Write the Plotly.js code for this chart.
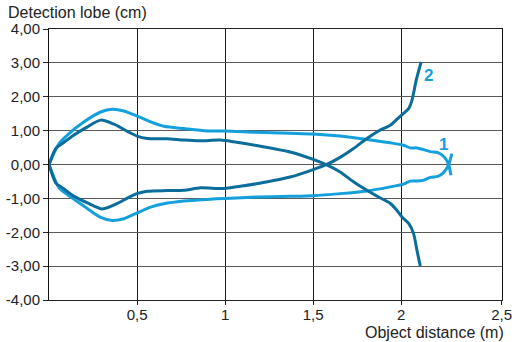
<!DOCTYPE html>
<html>
<head>
<meta charset="utf-8">
<script src="https://cdn.plot.ly/plotly-3.0.1.min.js"></script>
<style>html,body{margin:0;padding:0;background:#fff;}#chart{width:512px;height:342px;}</style>
</head>
<body>
<div id="chart"></div>
<script>
// ---- Data ----
// Curve 1 (light blue), upper and lower branches
const curve1UpperX = [0, 0.057, 0.104, 0.199, 0.293, 0.36, 0.425, 0.5, 0.577, 0.652, 0.766, 0.898, 1.0, 1.178, 1.369, 1.5, 1.653, 1.805, 1.938, 2.013, 2.051, 2.089, 2.127, 2.165, 2.208, 2.244, 2.268, 2.282];
const curve1UpperY = [0, 0.62, 0.87, 1.26, 1.55, 1.63, 1.58, 1.43, 1.26, 1.13, 1.06, 0.99, 0.99, 0.95, 0.92, 0.90, 0.84, 0.74, 0.64, 0.57, 0.49, 0.49, 0.44, 0.38, 0.35, 0.22, 0.01, -0.32];
const curve1LowerX = [0, 0.057, 0.104, 0.199, 0.293, 0.36, 0.425, 0.5, 0.577, 0.652, 0.766, 0.898, 1.0, 1.178, 1.369, 1.5, 1.653, 1.805, 1.938, 2.013, 2.051, 2.089, 2.127, 2.165, 2.208, 2.24, 2.268, 2.287];
const curve1LowerY = [0, -0.69, -0.89, -1.23, -1.56, -1.65, -1.6, -1.43, -1.26, -1.16, -1.08, -1.03, -1.0, -0.96, -0.94, -0.92, -0.86, -0.78, -0.66, -0.58, -0.49, -0.49, -0.46, -0.38, -0.35, -0.24, -0.02, 0.32];
// Curve 2 (dark blue), upper and lower branches
const curve2UpperX = [0, 0.038, 0.076, 0.142, 0.218, 0.293, 0.369, 0.445, 0.5, 0.558, 0.671, 0.766, 0.86, 0.974, 1.049, 1.178, 1.272, 1.369, 1.5, 1.58, 1.653, 1.729, 1.805, 1.871, 1.938, 1.975, 2.004, 2.042, 2.07, 2.089, 2.108];
const curve2UpperY = [0, 0.47, 0.62, 0.87, 1.11, 1.31, 1.19, 0.98, 0.84, 0.77, 0.76, 0.72, 0.70, 0.72, 0.67, 0.56, 0.47, 0.37, 0.15, -0.02, -0.22, -0.51, -0.76, -0.96, -1.15, -1.35, -1.55, -1.74, -2.04, -2.53, -3.0];
const curve2LowerX = [0, 0.038, 0.076, 0.142, 0.218, 0.303, 0.388, 0.445, 0.5, 0.558, 0.671, 0.766, 0.86, 0.992, 1.087, 1.178, 1.269, 1.369, 1.5, 1.58, 1.653, 1.729, 1.805, 1.871, 1.938, 1.975, 2.013, 2.042, 2.061, 2.085, 2.113];
const curve2LowerY = [0, -0.54, -0.69, -0.94, -1.13, -1.31, -1.15, -0.99, -0.86, -0.79, -0.77, -0.76, -0.69, -0.71, -0.64, -0.57, -0.48, -0.37, -0.15, 0.01, 0.21, 0.47, 0.77, 0.99, 1.16, 1.33, 1.51, 1.65, 1.9, 2.49, 3.03];

// Tick labels (the reference places its "2,5" label on the right frame edge)
const xTickVals = [0.5, 1, 1.5, 2, 2.57];
const xTickText = ['0,5', '1', '1,5', '2', '2,5'];
const yTickVals = [-4, -3, -2, -1, 0, 1, 2, 3, 4];
const yTickText = ['-4,00', '-3,00', '-2,00', '-1,00', '0,00', '1,00', '2,00', '3,00', '4,00'];
const seriesNames = ['1', '2'];

// ---- Styling ----
const light = '#14a0dc';
const dark = '#0a6d9b';
const font = 'Liberation Sans, Arial, sans-serif';

function branch(x, y, color, name) {
  return {x: x, y: y, mode: 'lines', type: 'scatter', name: name, hoverinfo: 'skip',
          line: {color: color, width: 3, shape: 'spline', smoothing: 0.7}};
}

const traces = [
  branch(curve1UpperX, curve1UpperY, light, seriesNames[0]),
  branch(curve1LowerX, curve1LowerY, light, seriesNames[0]),
  branch(curve2UpperX, curve2UpperY, dark, seriesNames[1]),
  branch(curve2LowerX, curve2LowerY, dark, seriesNames[1])
];

const layout = {
  width: 512, height: 342,
  margin: {l: 49, r: 10, t: 29, b: 42, pad: 0},
  paper_bgcolor: '#ffffff', plot_bgcolor: '#ffffff',
  showlegend: false,
  font: {family: font, color: '#222', size: 15},
  xaxis: {
    range: [0, 2.572], tickvals: xTickVals, ticktext: xTickText,
    showgrid: true, gridcolor: '#1e1e1e', gridwidth: 1,
    zeroline: false, showline: true, linecolor: '#222', linewidth: 1, mirror: true,
    ticks: 'outside', ticklen: 4, tickcolor: '#222', ticklabeloverflow: 'allow',
    ticklabelstandoff: -3,
    tickfont: {family: font, size: 15, color: '#222'}, fixedrange: true
  },
  yaxis: {
    range: [-4, 4], tickvals: yTickVals, ticktext: yTickText,
    showgrid: true, gridcolor: '#5a5a5a', gridwidth: 1,
    zeroline: false, showline: true, linecolor: '#111', linewidth: 1, mirror: true,
    ticks: 'outside', ticklen: 5, tickcolor: '#222', ticklabeloverflow: 'allow',
    tickfont: {family: font, size: 15, color: '#222'}, fixedrange: true
  },
  annotations: [
    {text: 'Detection lobe (cm)', xref: 'paper', yref: 'paper', x: -0.095, y: 1.06,
     xanchor: 'left', yanchor: 'middle', showarrow: false, font: {family: font, size: 16, color: '#222'}},
    {text: 'Object distance (m)', xref: 'paper', yref: 'paper', x: 1.009, y: -0.121,
     xanchor: 'right', yanchor: 'middle', showarrow: false, font: {family: font, size: 16, color: '#222'}},
    {text: '<b>2</b>', xref: 'x', yref: 'y', x: 2.153, y: 2.64, showarrow: false,
     xanchor: 'center', yanchor: 'middle', font: {family: font, size: 17, color: light}},
    {text: '<b>1</b>', xref: 'x', yref: 'y', x: 2.238, y: 0.60, showarrow: false,
     xanchor: 'center', yanchor: 'middle', font: {family: font, size: 17, color: light}}
  ]
};

Plotly.newPlot('chart', traces, layout, {staticPlot: true, displayModeBar: false});
</script>
</body>
</html>
